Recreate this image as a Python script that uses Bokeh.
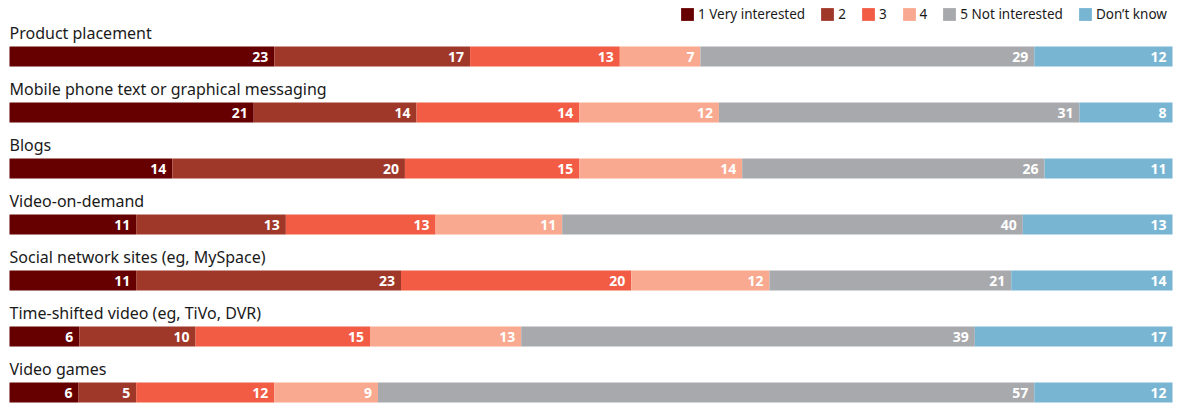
from bokeh.plotting import figure
from bokeh.models import Range1d, ColumnDataSource, Legend, LegendItem
from bokeh.core.properties import value
from bokeh.embed import file_html
from bokeh.resources import INLINE

categories = [
    "Product placement",
    "Mobile phone text or graphical messaging",
    "Blogs",
    "Video-on-demand",
    "Social network sites (eg, MySpace)",
    "Time-shifted video (eg, TiVo, DVR)",
    "Video games",
]
series_names = ["1 Very interested", "2", "3", "4", "5 Not interested", "Don\u2019t know"]
very_interested = [23, 21, 14, 11, 11, 6, 6]
level_2 = [17, 14, 20, 13, 23, 10, 5]
level_3 = [13, 14, 15, 13, 20, 15, 12]
level_4 = [7, 12, 14, 11, 12, 13, 9]
not_interested = [29, 31, 26, 40, 21, 39, 57]
dont_know = [12, 8, 11, 13, 14, 17, 12]
series = [very_interested, level_2, level_3, level_4, not_interested, dont_know]
colors = ["#660000", "#a0382a", "#f25c45", "#f9a98f", "#a8a9ad", "#77b5d3"]

FONT = "Noto Sans"
W, H = 1184, 403
X0, XW = 9, 1163
ROW_PITCH = 56
BAR_TOP0 = 46
BAR_H = 20

p = figure(width=W, height=H, output_backend="svg", toolbar_location=None,
           min_border=0, outline_line_color=None, background_fill_color="white")
p.x_range = Range1d(-X0 / XW, (W - X0) / XW)
p.y_range = Range1d(H, 0)
p.axis.visible = False
p.grid.visible = False

n = len(categories)
totals = [sum(s[i] for s in series) for i in range(n)]
ycent = [BAR_TOP0 + BAR_H / 2 + ROW_PITCH * i for i in range(n)]
ylab = [BAR_TOP0 - 13.5 + ROW_PITCH * i for i in range(n)]

cum = [0.0] * n
items = []
for name, vals, col in zip(series_names, series, colors):
    left = [cum[i] / totals[i] for i in range(n)]
    right = [(cum[i] + vals[i]) / totals[i] for i in range(n)]
    cum = [cum[i] + vals[i] for i in range(n)]
    src = ColumnDataSource(dict(y=ycent, left=left, right=right,
                                lab=[str(v) for v in vals]))
    r = p.hbar(y="y", left="left", right="right", height=BAR_H, source=src,
               fill_color=col, line_color=None)
    p.text(x="right", y="y", text="lab", source=src, x_offset=-6,
           text_align="right", text_baseline="middle", text_color="white",
           text_font=value(FONT), text_font_style="bold", text_font_size="14px")
    items.append(LegendItem(label=name, renderers=[r]))

lsrc = ColumnDataSource(dict(x=[0] * n, y=ylab, t=categories))
p.text(x="x", y="y", text="t", source=lsrc, text_align="left",
       text_baseline="middle", text_color="#1a1a1a",
       text_font=value(FONT), text_font_size="16px")

legend = Legend(items=items, orientation="horizontal", location=(679, H - 23),
                glyph_width=16, glyph_height=16, label_standoff=3, spacing=14,
                padding=0, margin=0, border_line_color=None,
                background_fill_alpha=0, label_height=16, label_width=0,
                label_text_font=FONT, label_text_font_size="13.5px",
                label_text_color="#1a1a1a")
p.add_layout(legend, "center")

open("out.html", "w").write(file_html(p, INLINE))
